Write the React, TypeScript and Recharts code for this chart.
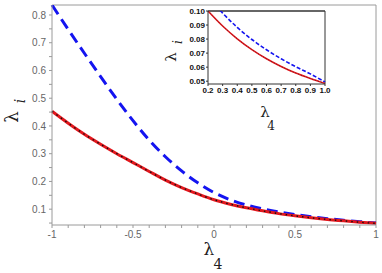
import { LineChart, Line, XAxis, YAxis, ReferenceLine } from 'recharts'

// main panel: lambda_i against lambda_4
const lambda4 = [-1, -0.9, -0.8, -0.7, -0.6, -0.5, -0.4, -0.3, -0.2, -0.1, 0, 0.1, 0.2, 0.3, 0.4, 0.5, 0.6, 0.7, 0.8, 0.9, 1]
const redVals = [0.453, 0.41, 0.37, 0.334, 0.3, 0.268, 0.236, 0.205, 0.178, 0.155, 0.134, 0.118, 0.105, 0.094, 0.084, 0.076, 0.069, 0.063, 0.058, 0.053, 0.049]
const blueVals = [0.836, 0.748, 0.662, 0.578, 0.496, 0.419, 0.349, 0.289, 0.238, 0.195, 0.16, 0.134, 0.115, 0.101, 0.09, 0.081, 0.073, 0.066, 0.06, 0.055, 0.05]
const xTicks = [-1, -0.9, -0.8, -0.7, -0.6, -0.5, -0.4, -0.3, -0.2, -0.1, 0, 0.1, 0.2, 0.3, 0.4, 0.5, 0.6, 0.7, 0.8, 0.9, 1]
const xLabels = ['-1', '-0.5', '0', '0.5', '1']
const yTicks = [0.05, 0.1, 0.15, 0.2, 0.25, 0.3, 0.35, 0.4, 0.45, 0.5, 0.55, 0.6, 0.65, 0.7, 0.75, 0.8]
const yLabels = ['0.1', '0.2', '0.3', '0.4', '0.5', '0.6', '0.7', '0.8']

// inset: zoom on 0.2..1
const insetLambda = [0.2, 0.3, 0.4, 0.5, 0.6, 0.7, 0.8, 0.9, 1]
const insetRed = [0.1, 0.0893, 0.0802, 0.0725, 0.066, 0.0605, 0.0558, 0.0519, 0.0484]
const insetBlue = [0.11, 0.0985, 0.0883, 0.0797, 0.0724, 0.066, 0.0603, 0.0552, 0.0494]
const insetYTicks = [0.05, 0.06, 0.07, 0.08, 0.09, 0.1]

const mainData = lambda4.map((l, i) => ({ l, red: redVals[i], blue: blueVals[i] }))
const insetData = insetLambda.map((l, i) => ({ l, red: insetRed[i], blue: insetBlue[i] }))

const RED = '#e3171d'
const BLUE = '#1414f0'
const AXIS = '#9a9a9a'

const fmtX = (v: number) => {
  const s = String(v)
  return xLabels.includes(s) ? s : ''
}
const fmtY = (v: number) => {
  const s = String(v)
  return yLabels.includes(s) ? s : ''
}

export default function App() {
  return (
    <div style={{ position: 'absolute', left: 0, top: 0, width: 382, height: 273, background: '#fff' }}>
      <LineChart width={382} height={273} data={mainData} margin={{ top: 5, right: 6, bottom: 18, left: 0 }}>
        <XAxis
          dataKey="l"
          type="number"
          domain={[-1, 1]}
          ticks={xTicks}
          tickFormatter={fmtX}
          interval={0}
          height={30}
          tickSize={3}
          tickMargin={3}
          stroke={AXIS}
          tick={{ fill: '#666', fontSize: 10, fontFamily: 'Liberation Sans' }}
        />
        <YAxis
          type="number"
          domain={[0.043, 0.836]}
          allowDataOverflow
          ticks={yTicks}
          tickFormatter={fmtY}
          interval={0}
          width={52}
          tickSize={3}
          tickMargin={3}
          stroke={AXIS}
          tick={{ fill: '#666', fontSize: 10, fontFamily: 'Liberation Sans' }}
        />
        <ReferenceLine y={0.836} stroke={AXIS} />
        <ReferenceLine x={1} stroke={AXIS} />
        <Line dataKey="blue" type="monotone" stroke={BLUE} strokeWidth={3} strokeDasharray="11 6" dot={false} isAnimationActive={false} />
        <Line dataKey="red" type="monotone" stroke={RED} strokeWidth={3} dot={false} isAnimationActive={false} />
        <Line dataKey="red" type="monotone" stroke="#111" strokeWidth={1.4} strokeDasharray="1.5 4" dot={false} isAnimationActive={false} />
      </LineChart>

      <div style={{ position: 'absolute', left: 178, top: 0 }}>
        <LineChart width={162} height={95} data={insetData} margin={{ top: 11, right: 15, bottom: 0, left: 0 }}>
          <XAxis
            dataKey="l"
            type="number"
            domain={[0.2, 1]}
            ticks={insetLambda}
            tickFormatter={(v: number) => v.toFixed(1)}
            interval={0}
            height={11}
            tickSize={2}
            tickMargin={1}
            stroke="#333"
            tick={{ fill: '#111', fontSize: 8, fontWeight: 'bold', fontFamily: 'Liberation Sans' }}
          />
          <YAxis
            type="number"
            domain={[0.048, 0.1]}
            allowDataOverflow
            ticks={insetYTicks}
            tickFormatter={(v: number) => v.toFixed(2)}
            interval={0}
            width={30}
            tickSize={2}
            tickMargin={1}
            stroke="#333"
            tick={{ fill: '#111', fontSize: 8, fontWeight: 'bold', fontFamily: 'Liberation Sans' }}
          />
          <ReferenceLine y={0.1} stroke="#333" strokeWidth={1.5} />
          <ReferenceLine x={1} stroke="#333" />
          <Line dataKey="blue" type="monotone" stroke={BLUE} strokeWidth={1.6} strokeDasharray="4 2" dot={false} isAnimationActive={false} />
          <Line dataKey="red" type="monotone" stroke={RED} strokeWidth={1.6} dot={false} isAnimationActive={false} />
          <Line dataKey="red" type="monotone" stroke="#222" strokeWidth={0.6} strokeDasharray="1 2" dot={false} isAnimationActive={false} />
        </LineChart>
      </div>

      <svg width={382} height={273} style={{ position: 'absolute', left: 0, top: 0, pointerEvents: 'none' }}>
        <g fontFamily="DejaVu Serif" fill="#222">
          <text x={18} y={117} fontSize={18} textAnchor="middle" transform="rotate(-90 18 117)">λ</text>
          <text x={25} y={101} fontSize={14} fontStyle="italic" textAnchor="middle" transform="rotate(-90 25 101)">i</text>
          <text x={209} y={255} fontSize={17} textAnchor="middle">λ</text>
          <text x={218} y={269} fontSize={14} textAnchor="middle">4</text>
          <text x={176} y={57} fontSize={15} textAnchor="middle" transform="rotate(-90 176 57)">λ</text>
          <text x={182} y={42} fontSize={12} fontStyle="italic" textAnchor="middle" transform="rotate(-90 182 42)">i</text>
          <text x={265} y={117} fontSize={15} textAnchor="middle">λ</text>
          <text x={271} y={130} fontSize={12} textAnchor="middle">4</text>
        </g>
      </svg>
    </div>
  )
}
